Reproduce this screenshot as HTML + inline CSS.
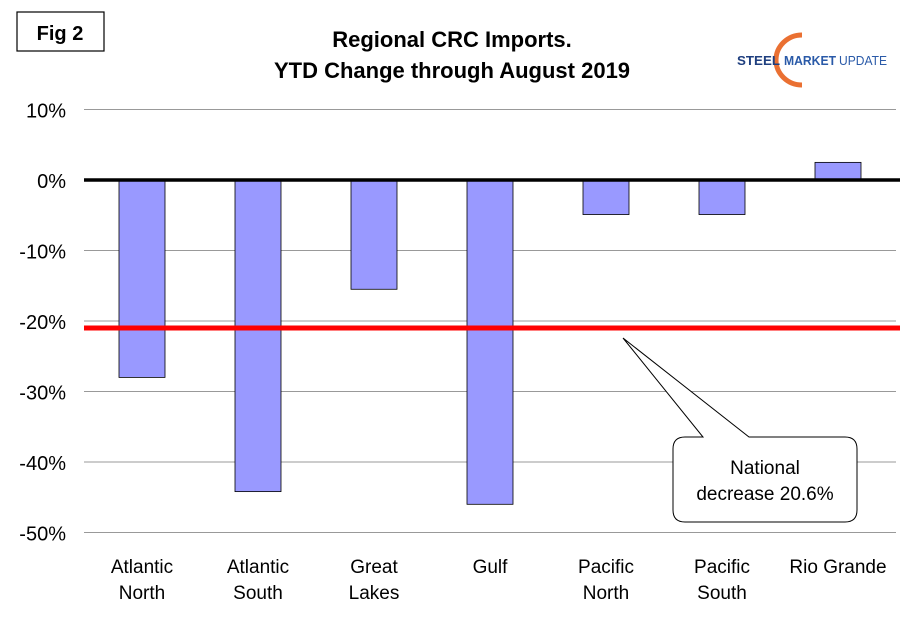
<!DOCTYPE html>
<html><head><meta charset="utf-8"><style>
body{margin:0;background:#fff;}
svg text{font-family:"Liberation Sans",Arial,sans-serif;}
</style></head><body>
<svg id="chart" width="910" height="622" viewBox="0 0 910 622" xmlns="http://www.w3.org/2000/svg">
<rect x="0" y="0" width="910" height="622" fill="#fff"/>
<rect x="17" y="12" width="87" height="39" fill="#fff" stroke="#000" stroke-width="1.2"/>
<text x="60" y="40" font-size="20" font-weight="bold" text-anchor="middle">Fig 2</text>
<text x="452" y="47" font-size="22" font-weight="bold" text-anchor="middle">Regional CRC Imports.</text>
<text x="452" y="78" font-size="22" font-weight="bold" text-anchor="middle">YTD Change through August 2019</text>
<g>
<path d="M802,35 A26,25 0 0,0 802,85" fill="none" stroke="#e8601c" stroke-width="5" opacity="0.9"/>
<text x="737" y="65" font-size="12.5" font-weight="bold" fill="#1f3f7f" textLength="43" lengthAdjust="spacingAndGlyphs">STEEL</text>
<text x="784" y="65" font-size="12.5" font-weight="bold" fill="#2a5aa8" textLength="52" lengthAdjust="spacingAndGlyphs">MARKET</text>
<text x="839" y="65" font-size="12.5" fill="#2a5aa8" textLength="48" lengthAdjust="spacingAndGlyphs">UPDATE</text>
</g>
<g id="grid"></g>
<g id="bars"></g>
<g id="axes"></g>
<g>
<path d="M690,437 L703,437 L623,338 L749,437 L845,437 Q857,437 857,449 L857,510 Q857,522 845,522 L685,522 Q673,522 673,510 L673,449 Q673,437 685,437 Z" fill="#fff" stroke="#000" stroke-width="1"/>
<text x="765" y="474" font-size="19" text-anchor="middle">National</text>
<text x="765" y="500" font-size="19" text-anchor="middle">decrease 20.6%</text>
</g>
</svg>
<script>
const categories=[["Atlantic","North"],["Atlantic","South"],["Great","Lakes"],["Gulf"],["Pacific","North"],["Pacific","South"],["Rio Grande"]];
const values=[-28,-44.2,-15.5,-46,-4.9,-4.9,2.5];
const nationalValue=[-21];
const ticks=[10,0,-10,-20,-30,-40,-50];
const tickLabels=["10%","0%","-10%","-20%","-30%","-40%","-50%"];
const NS="http://www.w3.org/2000/svg";
const x0=84,x1=896,yTop=109.5,yBot=532.5,vMax=10,vMin=-50;
const y=v=>yTop+(vMax-v)/(vMax-vMin)*(yBot-yTop);
const bw=(x1-x0)/categories.length;
const xc=i=>x0+bw*(i+0.5);
function mk(tag,attrs,parent){const e=document.createElementNS(NS,tag);for(const k in attrs)e.setAttribute(k,attrs[k]);document.getElementById(parent).appendChild(e);return e;}
ticks.forEach((t,i)=>{
 const g=mk("line",{x1:x0,x2:x1,y1:y(t),y2:y(t),stroke:"#999","stroke-width":1},"grid");
 
 
 const l=mk("text",{x:66,y:y(t)+8,"font-size":20,"text-anchor":"end"},"axes");
 l.textContent=tickLabels[i];
 
 
});
values.forEach((v,i)=>{
 const top=Math.min(y(v),y(0)),h=Math.abs(y(v)-y(0));
 const r=mk("rect",{x:xc(i)-23,y:top,width:46,height:h,fill:"#9999ff",stroke:"#000","stroke-width":0.8},"bars");
 
 
 categories[i].forEach((s,j)=>{
  const t=mk("text",{x:xc(i),y:573+j*26,"font-size":19,"text-anchor":"middle"},"axes");
  t.textContent=s;
  
  
 });
});
const z=mk("line",{x1:x0,x2:x1+4,y1:y(0),y2:y(0),stroke:"#000","stroke-width":3.5},"axes");


const n=mk("line",{x1:x0,x2:x1+4,y1:y(nationalValue[0]),y2:y(nationalValue[0]),stroke:"#ff0000","stroke-width":5},"axes");


</script>
</body></html>
